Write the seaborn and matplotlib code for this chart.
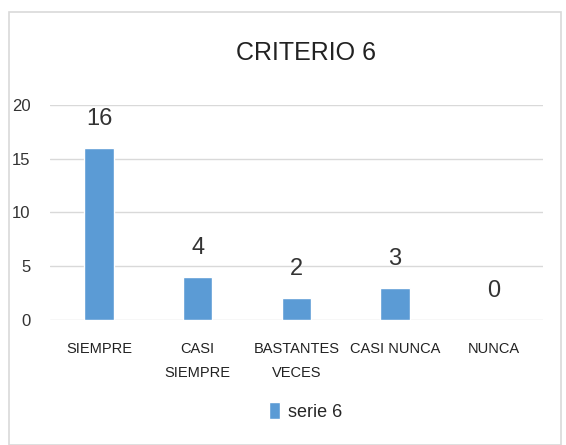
import matplotlib
matplotlib.use('Agg')
import matplotlib.pyplot as plt
import seaborn as sns
import pandas as pd
from matplotlib.patches import Rectangle

categories = ['SIEMPRE', 'CASI\nSIEMPRE', 'BASTANTES\nVECES', 'CASI NUNCA', 'NUNCA']
values = [16, 4, 2, 3, 0]
series_name = 'serie 6'

sns.set_theme(style='white')
plt.rcParams['font.family'] = ['Liberation Sans', 'DejaVu Sans']

df = pd.DataFrame({'Categoria': categories, 'Valor': values, 'Serie': series_name})

fig = plt.figure(figsize=(5.66, 4.45), dpi=100)
ax = fig.add_axes([0.088, 0.281, 0.871, 0.483])

sns.barplot(data=df, x='Categoria', y='Valor', hue='Serie', palette=['#5B9BD5'],
            width=0.3, saturation=1, ax=ax, legend=True)

ax.set_ylim(0, 20)
ax.set_yticks([0, 5, 10, 15, 20])
ax.yaxis.grid(True, color='#d9d9d9', linewidth=1)
ax.set_axisbelow(True)
for s in ax.spines.values():
    s.set_visible(False)
ax.set_xlabel('')
ax.set_ylabel('')
ax.tick_params(axis='y', labelsize=12, pad=14, length=0, colors='#333333')
ax.tick_params(axis='x', labelsize=10.5, pad=16, length=0, colors='#222222')
for lbl in ax.get_xticklabels():
    lbl.set_linespacing(1.9)

for p in ax.patches:
    h = p.get_height()
    if p.get_width() == 0:
        continue
    ax.annotate(f'{h:.0f}', (p.get_x() + p.get_width() / 2, h),
                xytext=(0, 13), textcoords='offset points',
                ha='center', va='bottom', fontsize=17, color='#333333')

fig.text(0.54, 0.882, 'CRITERIO 6', ha='center', va='center', fontsize=18, color='#222222')

leg = ax.legend(loc='center', bbox_to_anchor=(0.54, 0.075), bbox_transform=fig.transFigure,
                frameon=False, fontsize=13, handlelength=0.6, handleheight=1.0, handletextpad=0.4)

fig.patches.append(Rectangle((9 / 566, 0), 552 / 566, 1 - 12 / 445, transform=fig.transFigure,
                             fill=False, edgecolor='#d9d9d9', linewidth=1.2))

fig.savefig('out.png', dpi=100)
